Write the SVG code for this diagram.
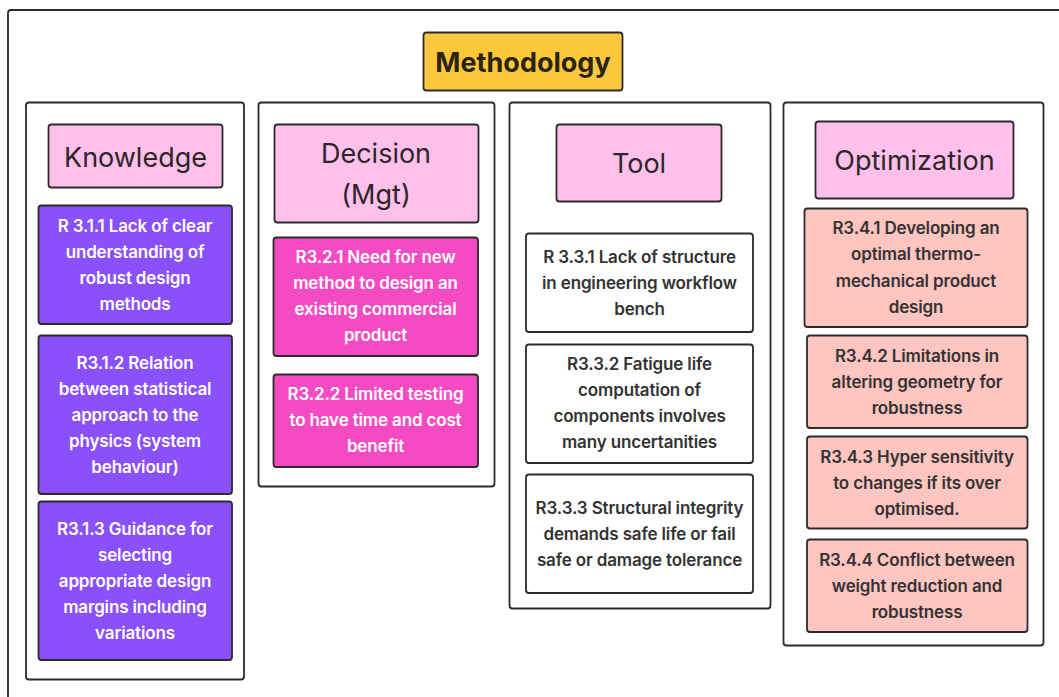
<svg xmlns="http://www.w3.org/2000/svg" width="1059" height="697" viewBox="0 0 1059 697">
<style>
.frame{fill:#fff;stroke:#2b2b2b;stroke-width:1.8}
.hdr{fill:#FFC0EB;stroke:#2b2b2b;stroke-width:1.8}
.k{fill:#8A50FC;stroke:#2b2b2b;stroke-width:1.8}
.d{fill:#F54BC2;stroke:#2b2b2b;stroke-width:1.8}
.t{fill:#fff;stroke:#2b2b2b;stroke-width:1.8}
.o{fill:#FFC5C0;stroke:#2b2b2b;stroke-width:1.8}
text{font-family:Inter,"Noto Sans","Liberation Sans",sans-serif;text-anchor:middle;dominant-baseline:central}
.ht{font-size:27px;fill:#2d2528}
.it{font-size:17px;font-weight:600;letter-spacing:-0.15px}
.w{fill:#fff}
.b{fill:#333}
</style>
<rect x="8" y="10" width="1100" height="720" rx="3" class="frame"/>
<g id="methodology">
<rect x="423.5" y="32.5" width="199" height="58" rx="3" fill="#FDC83E" stroke="#2b2b2b" stroke-width="1.8"/>
<text x="523" y="62" style="font-size:27px;font-weight:700;fill:#2b2410">Methodology</text>
</g>
<g id="col-knowledge">
<rect x="26" y="102.5" width="218" height="577" rx="3" class="frame"/>
</g>
<g id="col-decision">
<rect x="258.5" y="102.5" width="236" height="384" rx="3" class="frame"/>
</g>
<g id="col-tool">
<rect x="509.5" y="102.5" width="261" height="506" rx="3" class="frame"/>
</g>
<g id="col-optimization">
<rect x="783.5" y="102.5" width="260" height="543" rx="3" class="frame"/>
</g>
<g id="knowledge">
<rect x="48.5" y="124.5" width="174" height="63" rx="3" class="hdr"/>
<text x="135.5" y="157" class="ht">Knowledge</text>
</g>
<g id="r311">
<rect x="38.5" y="205.5" width="193.5" height="118.5" rx="3" class="k"/>
<text class="it w"><tspan x="135" y="226">R 3.1.1 Lack of clear</tspan><tspan x="135" y="252">understanding of</tspan><tspan x="135" y="278">robust design</tspan><tspan x="135" y="304">methods</tspan></text>
</g>
<g id="r312">
<rect x="38.5" y="335.5" width="193.5" height="158.5" rx="3" class="k"/>
<text class="it w"><tspan x="135" y="363">R3.1.2 Relation</tspan><tspan x="135" y="389">between statistical</tspan><tspan x="135" y="415">approach to the</tspan><tspan x="135" y="441">physics (system</tspan><tspan x="135" y="467">behaviour)</tspan></text>
</g>
<g id="r313">
<rect x="38.5" y="501.5" width="193.5" height="158.5" rx="3" class="k"/>
<text class="it w"><tspan x="135" y="529">R3.1.3 Guidance for</tspan><tspan x="135" y="555">selecting</tspan><tspan x="135" y="581">appropriate design</tspan><tspan x="135" y="607">margins including</tspan><tspan x="135" y="633">variations</tspan></text>
</g>
<g id="decision">
<rect x="274.5" y="124.5" width="204" height="98" rx="3" class="hdr"/>
<text class="ht"><tspan x="376" y="153">Decision</tspan><tspan x="376" y="194">(Mgt)</tspan></text>
</g>
<g id="r321">
<rect x="273.5" y="237.5" width="204.5" height="118.5" rx="3" class="d"/>
<text class="it w"><tspan x="375.5" y="257">R3.2.1 Need for new</tspan><tspan x="375.5" y="283">method to design an</tspan><tspan x="375.5" y="309">existing commercial</tspan><tspan x="375.5" y="335">product</tspan></text>
</g>
<g id="r322">
<rect x="273.5" y="374.5" width="204.5" height="92.5" rx="3" class="d"/>
<text class="it w"><tspan x="375.5" y="394">R3.2.2 Limited testing</tspan><tspan x="375.5" y="420">to have time and cost</tspan><tspan x="375.5" y="446">benefit</tspan></text>
</g>
<g id="tool">
<rect x="556.5" y="124.5" width="165" height="77" rx="3" class="hdr"/>
<text x="639" y="163" class="ht">Tool</text>
</g>
<g id="r331">
<rect x="526" y="233.5" width="227" height="98.5" rx="3" class="t"/>
<text class="it b"><tspan x="639.5" y="257">R 3.3.1 Lack of structure</tspan><tspan x="639.5" y="283">in engineering workflow</tspan><tspan x="639.5" y="309">bench</tspan></text>
</g>
<g id="r332">
<rect x="526" y="344.5" width="227" height="118.5" rx="3" class="t"/>
<text class="it b"><tspan x="639.5" y="364">R3.3.2 Fatigue life</tspan><tspan x="639.5" y="390">computation of</tspan><tspan x="639.5" y="416">components involves</tspan><tspan x="639.5" y="442">many uncertanities</tspan></text>
</g>
<g id="r333">
<rect x="526" y="474.5" width="227" height="118.5" rx="3" class="t"/>
<text class="it b"><tspan x="639.5" y="508">R3.3.3 Structural integrity</tspan><tspan x="639.5" y="534">demands safe life or fail</tspan><tspan x="639.5" y="560">safe or damage tolerance</tspan></text>
</g>
<g id="optimization">
<rect x="815.5" y="121.5" width="198" height="77" rx="3" class="hdr"/>
<text x="914.5" y="160" class="ht">Optimization</text>
</g>
<g id="r341">
<rect x="804.5" y="208.5" width="223" height="118.5" rx="3" class="o"/>
<text class="it b"><tspan x="916" y="228">R3.4.1 Developing an</tspan><tspan x="916" y="254">optimal thermo-</tspan><tspan x="916" y="281">mechanical product</tspan><tspan x="916" y="307">design</tspan></text>
</g>
<g id="r342">
<rect x="807" y="335.5" width="220.5" height="92.5" rx="3" class="o"/>
<text class="it b"><tspan x="917" y="356">R3.4.2 Limitations in</tspan><tspan x="917" y="382">altering geometry for</tspan><tspan x="917" y="408">robustness</tspan></text>
</g>
<g id="r343">
<rect x="807" y="436.5" width="220.5" height="92" rx="3" class="o"/>
<text class="it b"><tspan x="917" y="457">R3.4.3 Hyper sensitivity</tspan><tspan x="917" y="483">to changes if its over</tspan><tspan x="917" y="509">optimised.</tspan></text>
</g>
<g id="r344">
<rect x="807" y="539.5" width="220.5" height="92.5" rx="3" class="o"/>
<text class="it b"><tspan x="917" y="560">R3.4.4 Conflict between</tspan><tspan x="917" y="586">weight reduction and</tspan><tspan x="917" y="612">robustness</tspan></text>
</g>
<g id="connectors"></g>
</svg>
